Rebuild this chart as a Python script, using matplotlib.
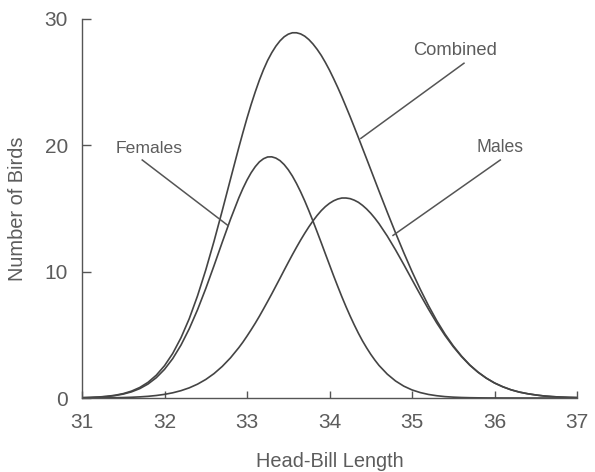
import matplotlib
matplotlib.use("Agg")
import matplotlib.pyplot as plt

# Head-bill length grid (x values read along the axis; finer near the peaks)
head_bill = [31.0, 31.1, 31.2, 31.3, 31.4, 31.5, 31.6, 31.7, 31.8, 31.9,
             32.0, 32.1, 32.2, 32.3, 32.4, 32.5, 32.6, 32.7, 32.8, 32.9,
             32.95, 33.0, 33.05, 33.1, 33.15, 33.2, 33.25, 33.3, 33.35, 33.4,
             33.45, 33.5, 33.55, 33.6, 33.65, 33.7, 33.75, 33.8, 33.85, 33.9,
             33.95, 34.0, 34.05, 34.1, 34.15, 34.2, 34.25, 34.3, 34.35, 34.4,
             34.45, 34.5, 34.55, 34.6,
             34.7, 34.8, 34.9,
             35.0, 35.1, 35.2, 35.3, 35.4, 35.5, 35.6, 35.7, 35.8, 35.9,
             36.0, 36.1, 36.2, 36.3, 36.4, 36.5, 36.6, 36.7, 36.8, 36.9,
             37.0]

females = [0.022, 0.040, 0.069, 0.117, 0.193, 0.310, 0.486, 0.743, 1.106, 1.604,
           2.267, 3.12, 4.19, 5.48, 6.98, 8.66, 10.47, 12.33, 14.15, 15.83,
           16.58, 17.25, 17.83, 18.31, 18.69, 18.94, 19.08, 19.09, 18.99, 18.79,
           18.48, 18.07, 17.57, 16.98, 16.32, 15.60, 14.82, 14.00, 13.15, 12.29,
           11.41, 10.54, 9.67, 8.83, 8.01, 7.23, 6.49, 5.79, 5.13, 4.52,
           3.97, 3.46, 3.00, 2.58,
           1.89, 1.35, 0.94,
           0.64, 0.43, 0.28, 0.18, 0.11, 0.067, 0.040, 0.023, 0.013, 0.007,
           0.004, 0.002, 0.001, 0.0, 0.0, 0.0, 0.0, 0.0, 0.0, 0.0,
           0.0]

males = [0.003, 0.005, 0.009, 0.015, 0.023, 0.037, 0.058, 0.089, 0.133, 0.198,
         0.288, 0.412, 0.581, 0.804, 1.095, 1.466, 1.93, 2.50, 3.18, 3.98,
         4.42, 4.90, 5.40, 5.92, 6.47, 7.05, 7.64, 8.24, 8.86, 9.48,
         10.11, 10.73, 11.34, 11.93, 12.50, 13.04, 13.55, 14.02, 14.45, 14.83,
         15.15, 15.41, 15.61, 15.75, 15.83, 15.83, 15.78, 15.66, 15.49, 15.25,
         14.96, 14.62, 14.23, 13.80,
         12.82, 11.73, 10.57,
         9.37, 8.18, 7.03, 5.94, 4.95, 4.06, 3.28, 2.60, 2.04, 1.57,
         1.19, 0.89, 0.65, 0.47, 0.34, 0.24, 0.16, 0.11, 0.074, 0.049,
         0.032]

combined = [0.025, 0.045, 0.078, 0.132, 0.216, 0.347, 0.544, 0.832, 1.239, 1.802,
            2.555, 3.53, 4.77, 6.28, 8.08, 10.13, 12.40, 14.83, 17.33, 19.81,
            21.00, 22.15, 23.23, 24.23, 25.16, 25.99, 26.72, 27.33, 27.85, 28.27,
            28.59, 28.80, 28.91, 28.91, 28.82, 28.64, 28.37, 28.02, 27.60, 27.12,
            26.56, 25.95, 25.28, 24.58, 23.84, 23.06, 22.27, 21.45, 20.62, 19.77,
            18.93, 18.08, 17.23, 16.38,
            14.71, 13.08, 11.51,
            10.01, 8.61, 7.31, 6.12, 5.06, 4.13, 3.32, 2.62, 2.05, 1.58,
            1.19, 0.89, 0.65, 0.47, 0.34, 0.24, 0.16, 0.11, 0.074, 0.049,
            0.032]

x_ticks = [31, 32, 33, 34, 35, 36, 37]
y_ticks = [0, 10, 20, 30]
x_label = "Head-Bill Length"
y_label = "Number of Birds"

plt.rcParams['font.family'] = ['Liberation Sans', 'DejaVu Sans']

fig = plt.figure(figsize=(5.95, 4.72), dpi=100)
ax = fig.add_axes([82/595, 74/472, 495/595, 379/472])

curve_col = "#444444"
text_col = "#5c5c5c"

for series in (females, males, combined):
    ax.plot(head_bill, series, color=curve_col, lw=1.2,
            solid_capstyle='round', solid_joinstyle='round')

ax.set_xlim(31, 37)
ax.set_ylim(0, 30)
ax.set_xticks(x_ticks)
ax.set_yticks(y_ticks)
ax.set_xticklabels([str(t) for t in x_ticks])
ax.set_yticklabels([str(t) for t in y_ticks])

for s in ("top", "right"):
    ax.spines[s].set_visible(False)
for s in ("left", "bottom"):
    ax.spines[s].set_color("#555555")
    ax.spines[s].set_linewidth(1.0)

ax.tick_params(axis='x', direction='in', length=5, width=1, colors="#555555",
               labelcolor=text_col, labelsize=15, pad=11)
ax.tick_params(axis='y', direction='in', length=6.5, width=1, colors="#555555",
               labelcolor=text_col, labelsize=15, pad=10)

ax.set_xlabel(x_label, fontsize=14.4, color=text_col)
ax.set_ylabel(y_label, fontsize=14.4, color=text_col)
ax.xaxis.set_label_coords(0.5, -0.168)
ax.xaxis.label.set_va('center')
ax.yaxis.set_label_coords(-0.130, 0.5)
ax.yaxis.label.set_va('center')

# labels and leader lines
lead_col = "#555555"
ax.text(35.52, 27.47, "Combined", fontsize=13.2, color=text_col, ha='center', va='center')
ax.plot([35.63, 34.38], [26.5, 20.55], color=lead_col, lw=1.1)
ax.text(36.07, 19.83, "Males", fontsize=12.7, color=text_col, ha='center', va='center')
ax.plot([36.07, 34.77], [18.84, 12.87], color=lead_col, lw=1.1)
ax.text(31.81, 19.76, "Females", fontsize=12.6, color=text_col, ha='center', va='center')
ax.plot([31.73, 32.77], [18.84, 13.65], color=lead_col, lw=1.1)

fig.savefig("out.png", dpi=100, facecolor="white")
